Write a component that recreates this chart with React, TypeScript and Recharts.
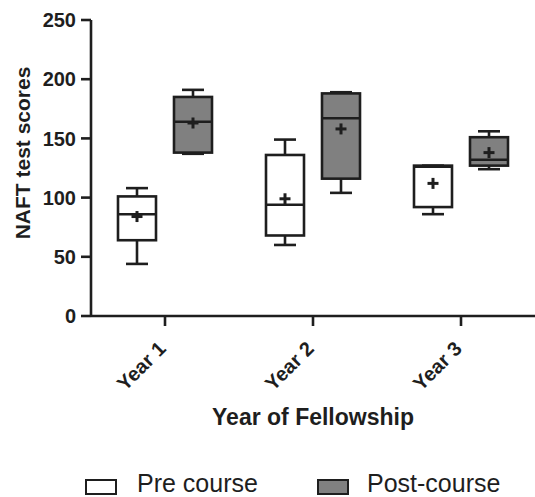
import React from 'react';
import { Bar, ComposedChart, Legend, XAxis, YAxis } from 'recharts';

const years = ['Year 1', 'Year 2', 'Year 3'];

// Pre course box stats
const preMin = [44, 60, 86];
const preQ1 = [64, 68, 92];
const preMedian = [86, 94, 126];
const preQ3 = [101, 136, 127];
const preMax = [108, 149, 127];
const preMean = [84, 99, 112];

// Post-course box stats
const postMin = [137, 104, 124];
const postQ1 = [138, 116, 127];
const postMedian = [164, 167, 132];
const postQ3 = [185, 188, 151];
const postMax = [191, 189, 156];
const postMean = [163, 158, 138];

const yTicks = [0, 50, 100, 150, 200, 250];

const FONT = '"Liberation Sans", Arial, Helvetica, sans-serif';
const INK = '#1e1e1e';

const chartData = years.map((year, i) => ({
  year,
  pre: { min: preMin[i], q1: preQ1[i], median: preMedian[i], q3: preQ3[i], max: preMax[i], mean: preMean[i] },
  post: { min: postMin[i], q1: postQ1[i], median: postMedian[i], q3: postQ3[i], max: postMax[i], mean: postMean[i] },
  preRange: [preMin[i], preMax[i]],
  postRange: [postMin[i], postMax[i]],
}));

const BoxShape = (props: any) => {
  const { x, y, width, height, payload, group, fill } = props;
  const s = payload[group];
  const top = Math.min(y, y + height);
  const h = Math.abs(height);
  const ppu = h / (s.max - s.min);
  const yOf = (v: number) => top + (s.max - v) * ppu;
  const cx = x + width / 2;
  const cap = width * 0.29;
  const sw = 2.6;
  return (
    <g>
      <line x1={cx} x2={cx} y1={yOf(s.max)} y2={yOf(s.q3)} stroke={INK} strokeWidth={sw} />
      <line x1={cx} x2={cx} y1={yOf(s.q1)} y2={yOf(s.min)} stroke={INK} strokeWidth={sw} />
      <line x1={cx - cap} x2={cx + cap} y1={yOf(s.max)} y2={yOf(s.max)} stroke={INK} strokeWidth={sw} />
      <line x1={cx - cap} x2={cx + cap} y1={yOf(s.min)} y2={yOf(s.min)} stroke={INK} strokeWidth={sw} />
      <rect
        x={x}
        y={yOf(s.q3)}
        width={width}
        height={yOf(s.q1) - yOf(s.q3)}
        fill={fill}
        stroke={INK}
        strokeWidth={sw}
      />
      <line x1={x} x2={x + width} y1={yOf(s.median)} y2={yOf(s.median)} stroke={INK} strokeWidth={sw} />
      <line x1={cx - 5.5} x2={cx + 5.5} y1={yOf(s.mean)} y2={yOf(s.mean)} stroke={INK} strokeWidth={3} />
      <line x1={cx} x2={cx} y1={yOf(s.mean) - 5.5} y2={yOf(s.mean) + 5.5} stroke={INK} strokeWidth={3} />
    </g>
  );
};

const YearTick = (props: any) => {
  const { x, y, payload } = props;
  const tx = x + 2;
  const ty = y + 22;
  return (
    <text
      x={tx}
      y={ty}
      transform={`rotate(-45, ${tx}, ${ty})`}
      textAnchor="end"
      fontSize={20}
      fontWeight="bold"
      fontFamily={FONT}
      fill={INK}
    >
      {payload.value}
    </text>
  );
};

const XTitle = (props: any) => {
  const vb = props.viewBox;
  return (
    <text
      x={vb.x + vb.width / 2}
      y={vb.y + 109}
      textAnchor="middle"
      fontSize={23}
      fontWeight="bold"
      fontFamily={FONT}
      fill={INK}
    >
      Year of Fellowship
    </text>
  );
};

const YTitle = (props: any) => {
  const vb = props.viewBox;
  const tx = 30;
  const ty = vb.y + 133;
  return (
    <text
      x={tx}
      y={ty}
      transform={`rotate(-90, ${tx}, ${ty})`}
      textAnchor="middle"
      fontSize={21}
      fontWeight="bold"
      fontFamily={FONT}
      fill={INK}
    >
      NAFT test scores
    </text>
  );
};

const legendItems = [
  { label: 'Pre course', fill: '#ffffff', left: 85, textLeft: 137 },
  { label: 'Post-course', fill: '#808080', left: 317, textLeft: 367 },
];

const BoxLegend = () => (
  <div style={{ position: 'relative', width: 535, height: 22, fontFamily: FONT }}>
    {legendItems.map((item) => (
      <React.Fragment key={item.label}>
        <div
          style={{
            position: 'absolute',
            left: item.left,
            top: 4,
            width: 32,
            height: 16,
            boxSizing: 'border-box',
            border: `2.5px solid ${INK}`,
            background: item.fill,
          }}
        />
        <span
          style={{
            position: 'absolute',
            left: item.textLeft,
            top: -1,
            fontSize: 25,
            lineHeight: '19px',
            color: INK,
            whiteSpace: 'nowrap',
          }}
        >
          {item.label}
        </span>
      </React.Fragment>
    ))}
  </div>
);

export default function App() {
  return (
    <div style={{ position: 'absolute', left: 0, top: 0, width: 535, height: 497, background: '#fff' }}>
      <ComposedChart
        width={535}
        height={497}
        data={chartData}
        margin={{ top: 20, right: 0, bottom: 0, left: 0 }}
        barGap={18}
      >
        <XAxis
          dataKey="year"
          height={159}
          tickSize={10}
          tick={<YearTick />}
          axisLine={{ stroke: INK, strokeWidth: 2.6 }}
          tickLine={{ stroke: INK, strokeWidth: 2.6 }}
          label={<XTitle />}
        />
        <YAxis
          type="number"
          domain={[0, 250]}
          ticks={yTicks}
          width={91}
          tickSize={10}
          tickMargin={5}
          axisLine={{ stroke: INK, strokeWidth: 2.6 }}
          tickLine={{ stroke: INK, strokeWidth: 2.6 }}
          tick={{ fontSize: 20, fontWeight: 'bold', fill: INK, fontFamily: FONT }}
          label={<YTitle />}
        />
        <Legend verticalAlign="bottom" align="left" content={<BoxLegend />} wrapperStyle={{ left: 0, width: 535 }} />
        <Bar
          dataKey="preRange"
          name="Pre course"
          fill="#ffffff"
          barSize={38}
          isAnimationActive={false}
          shape={(p: any) => <BoxShape {...p} group="pre" />}
        />
        <Bar
          dataKey="postRange"
          name="Post-course"
          fill="#808080"
          barSize={38}
          isAnimationActive={false}
          shape={(p: any) => <BoxShape {...p} group="post" />}
        />
      </ComposedChart>
    </div>
  );
}
